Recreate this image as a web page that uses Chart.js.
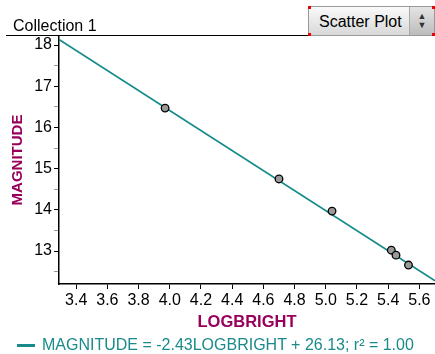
<!DOCTYPE html>
<html>
<head>
<meta charset="utf-8">
<script src="https://cdn.jsdelivr.net/npm/chart.js@4"></script>
<style>
  body { margin: 0; background: #fff; font-family: "Liberation Sans", Arial, sans-serif; }
  #wrap { position: relative; width: 435px; height: 354px; overflow: hidden; }
  #title { position: absolute; left: 13px; top: 17px; font-size: 16px; color: #000; }
  #rule { position: absolute; left: 6px; top: 35px; width: 429px; height: 1px; background: #000; }
  #btn {
    position: absolute; left: 308px; top: 6px; width: 127px; height: 30px;
    background: linear-gradient(#fafafa, #d8d8d8); border: 1px solid #999; box-sizing: border-box;
    font-size: 16px; line-height: 29px; padding-left: 10px;
  }
  #btn .arr { position: absolute; right: 0; top: 0; width: 25px; height: 28px; background: linear-gradient(#e4e4e4, #bcbcbc); border-left: 1px solid #aaa; font-size: 9px; line-height: 9px; text-align: center; padding-top: 5px; box-sizing: border-box; color: #333; }
  .corner { position: absolute; width: 3px; height: 3px; background: #e00; }
  #legend { position: absolute; left: 17px; top: 336px; font-size: 16px; color: #1b8a8a; white-space: nowrap; }
  #legend .sw { display: inline-block; width: 18px; height: 3px; background: #1b8a8a; vertical-align: middle; margin-right: 7px; }
</style>
</head>
<body>
<div id="wrap">
  <canvas id="chart" width="435" height="354"></canvas>
  <div id="title">Collection 1</div>
  <div id="rule"></div>
  <div id="btn">Scatter Plot<div class="arr">▲<br>▼</div>
    <div class="corner" style="left:-1px;top:-1px"></div>
    <div class="corner" style="right:-1px;top:-1px"></div>
    <div class="corner" style="left:-1px;bottom:-1px"></div>
    <div class="corner" style="right:-1px;bottom:-1px"></div>
  </div>
  <div id="legend"><span class="sw"></span>MAGNITUDE = -2.43LOGBRIGHT + 26.13; r² = 1.00</div>
</div>
<script>
// ===== Data =====
const logBright = [3.97, 4.70, 5.04, 5.42, 5.45, 5.53];
const magnitude = [16.47, 14.75, 13.97, 13.02, 12.90, 12.66];
const slope = -2.43;
const intercept = 26.13;

const xTicks = [3.4, 3.6, 3.8, 4.0, 4.2, 4.4, 4.6, 4.8, 5.0, 5.2, 5.4, 5.6];
const yTicks = [12.5, 13, 13.5, 14, 14.5, 15, 15.5, 16, 16.5, 17, 17.5, 18];
const xMin = 3.29, xMax = 5.70;
const yMin = 12.2, yMax = 18.22;

const teal = "#138a8a";
const purple = "#99005c";

const points = logBright.map((x, i) => ({ x: x, y: magnitude[i] }));
const fitLine = [xMin, xMax].map(x => ({ x: x, y: slope * x + intercept }));

// ===== Chart =====
new Chart(document.getElementById("chart"), {
  type: "scatter",
  data: {
    datasets: [
      {
        type: "line",
        data: fitLine,
        borderColor: teal,
        borderWidth: 1.5,
        pointRadius: 0,
        fill: false,
        order: 2
      },
      {
        data: points,
        backgroundColor: "#9a9a9a",
        borderColor: "#000",
        borderWidth: 1.3,
        pointRadius: 3.8,
        order: 1
      }
    ]
  },
  options: {
    responsive: false,
    animation: false,
    layout: { autoPadding: false, padding: { top: 36, bottom: 20, left: 0, right: 0 } },
    plugins: { legend: { display: false }, tooltip: { enabled: false } },
    scales: {
      x: {
        type: "linear",
        min: xMin,
        max: xMax,
        afterBuildTicks: s => { s.ticks = xTicks.map(v => ({ value: v })); },
        afterFit: s => { s.height = 50; },
        ticks: {
          color: "#000",
          font: { family: "Liberation Sans", size: 16 },
          padding: 2,
          maxRotation: 0,
          autoSkip: false,
          callback: v => v.toFixed(1)
        },
        grid: { drawOnChartArea: false, color: "#000", tickLength: 5 },
        border: { color: "#000", width: 1.5 },
        title: {
          display: true,
          text: "LOGBRIGHT",
          color: purple,
          font: { family: "Liberation Sans", size: 16.5, weight: "bold" },
          padding: { top: 0, bottom: 2 }
        }
      },
      y: {
        min: yMin,
        max: yMax,
        afterBuildTicks: s => { s.ticks = yTicks.map(v => ({ value: v })); },
        afterFit: s => { s.width = 59; },
        ticks: {
          color: "#000",
          font: { family: "Liberation Sans", size: 16 },
          padding: 2,
          autoSkip: false,
          callback: v => Number.isInteger(v) ? String(v) : ""
        },
        grid: {
          drawOnChartArea: false,
          tickLength: 5,
          color: c => (c.tick && Number.isInteger(c.tick.value)) ? "#000" : "#999"
        },
        border: { color: "#000", width: 1.5 },
        title: {
          display: true,
          text: "MAGNITUDE",
          color: purple,
          font: { family: "Liberation Sans", size: 15, weight: "bold" },
          padding: { top: 9, bottom: 0 }
        }
      }
    }
  }
});
</script>
</body>
</html>
